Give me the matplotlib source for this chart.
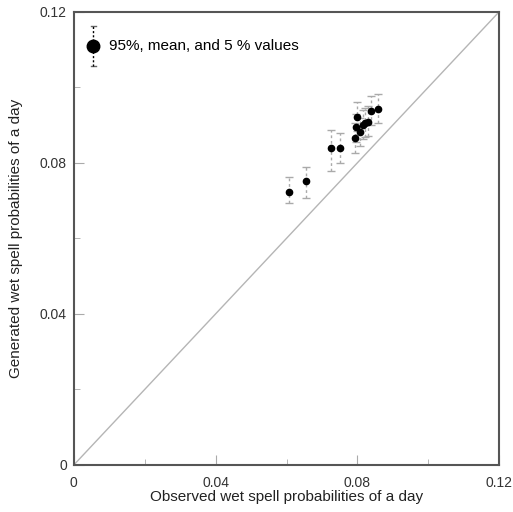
import numpy as np
from matplotlib import pyplot as plt

# observed vs generated wet spell probabilities (mean, 5% and 95% values)
obs = [0.0607, 0.0655, 0.0726, 0.0751, 0.0793, 0.0795, 0.0800, 0.0807,
       0.0815, 0.0822, 0.0830, 0.0838, 0.0858]
gen_mean = [0.0723, 0.0752, 0.0840, 0.0840, 0.0866, 0.0895, 0.0922, 0.0882,
            0.0900, 0.0905, 0.0909, 0.0938, 0.0943]
gen_95 = [0.0763, 0.0789, 0.0887, 0.0880, 0.0905, 0.0930, 0.0960, 0.0920,
          0.0940, 0.0945, 0.0950, 0.0977, 0.0983]
gen_5 = [0.0694, 0.0707, 0.0779, 0.0800, 0.0825, 0.0855, 0.0885, 0.0845,
         0.0862, 0.0868, 0.0872, 0.0900, 0.0906]

plt.rcParams['font.family'] = ['Liberation Sans', 'DejaVu Sans']

fig = plt.figure(figsize=(5.13, 5.12), dpi=100)
ax = fig.add_axes([0.144, 0.092, 0.829, 0.885])

ax.plot([0, 0.12], [0, 0.12], color='#b5b5b5', lw=1.0, zorder=1)

mean = np.array(gen_mean)
yerr = [mean - np.array(gen_5), np.array(gen_95) - mean]
eb = ax.errorbar(obs, gen_mean, yerr=yerr, fmt='o', color='black', ms=4.5,
                 ecolor='#aaaaaa', elinewidth=1.0, capsize=3, capthick=1.0, zorder=3)
eb[2][0].set_linestyle((0, (2, 2)))

# legend symbol
lx, ly = 0.0055, 0.111
ax.plot([lx, lx], [ly - 0.0053, ly + 0.0053], color='black', lw=1.0, ls=(0, (1.5, 1.5)), zorder=3)
ax.plot([lx - 0.0008, lx + 0.0008], [ly + 0.0053] * 2, color='#666666', lw=1.0)
ax.plot([lx - 0.0008, lx + 0.0008], [ly - 0.0053] * 2, color='#666666', lw=1.0)
ax.plot([lx], [ly], 'o', color='black', ms=9, zorder=4)
ax.text(0.0100, ly, '95%, mean, and 5 % values', fontsize=11, va='center', ha='left')

ax.set_xlim(0, 0.12)
ax.set_ylim(0, 0.12)
ax.set_xticks([0, 0.04, 0.08, 0.12])
ax.set_yticks([0, 0.04, 0.08, 0.12])
ax.set_xticks([0.02, 0.06, 0.1], minor=True)
ax.set_yticks([0.02, 0.06, 0.1], minor=True)
ax.set_xticklabels(['0', '0.04', '0.08', '0.12'])
ax.set_yticklabels(['0', '0.04', '0.08', '0.12'])
ax.tick_params(which='both', direction='in', color='#aaaaaa', labelsize=10, labelcolor='#333333')
ax.tick_params(which='major', length=7)
ax.tick_params(which='minor', length=4)
ax.tick_params(axis='x', pad=8)
ax.tick_params(axis='y', pad=5)
for s in ax.spines.values():
    s.set_color('#555555')
    s.set_linewidth(1.5)

ax.set_xlabel('Observed wet spell probabilities of a day', fontsize=11, color='#222222', labelpad=0)
ax.set_ylabel('Generated wet spell probabilities of a day', fontsize=11, color='#222222', labelpad=12)

fig.savefig('out.png', dpi=100)
